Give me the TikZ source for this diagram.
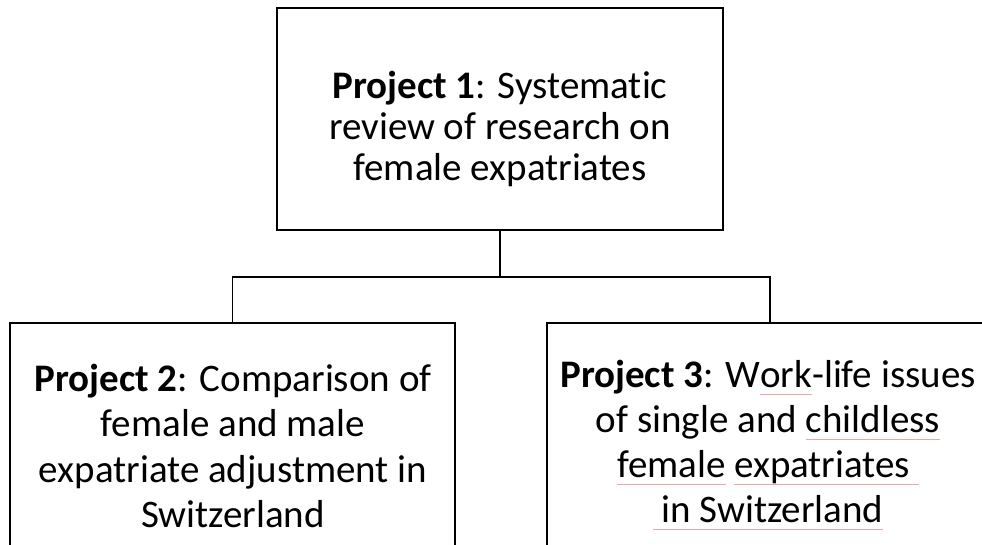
\documentclass[tikz,border=0pt]{standalone}
\usepackage{fontspec}
\setmainfont{Carlito}[Ligatures=NoCommon]
\usetikzlibrary{positioning}
\definecolor{ulpink}{HTML}{E8A8A8}
\newsavebox\ulbox
\newcommand\pinkul[1]{\sbox\ulbox{#1}\rlap{\textcolor{ulpink}{\rule[-7pt]{\wd\ulbox}{1pt}}}\usebox\ulbox}
\tikzset{
  projbox/.style={draw, line width=1.5pt, rectangle, inner sep=0pt},
  projtext/.style={align=center, inner sep=0pt},
  link/.style={draw, line width=1.5pt}
}
\begin{document}
\begin{tikzpicture}[x=1pt,y=-1pt]
\useasboundingbox (0,0) rectangle (982,544);
\clip (0,0) rectangle (982,544);
% boxes
\node[projbox, minimum width=446pt, minimum height=222pt] (top) at (500,119) {};
\node[projbox, minimum width=445pt, minimum height=229pt] (left) at (232.5,437.5) {};
\node[projbox, minimum width=446pt, minimum height=229pt] (right) at (770,437.5) {};
% texts
\node[projtext, font=\fontsize{39}{41}\selectfont] (ttop) at (500,129) {\textbf{Project 1}: Systematic\\review of research on\\female expatriates};
\node[projtext, font=\fontsize{39}{45.5}\selectfont] (tleft) at (233,446) {\textbf{Project 2}: Comparison of\\female and male\\expatriate adjustment in\\Switzerland};
\node[projtext, font=\fontsize{39}{45}\selectfont] (tright) at (768,445) {\textbf{Project 3}: W\pinkul{ork}-life issues\\of single and \pinkul{childless}\\\pinkul{female} \pinkul{expatriates\ }\\\pinkul{\ in Switzerland}};
% connectors
\coordinate (bus) at (500,277);
\draw[link] (top.south) -- (bus);
\draw[link] (bus) -| (left.north);
\draw[link] (bus) -| (right.north);
\end{tikzpicture}
\end{document}
